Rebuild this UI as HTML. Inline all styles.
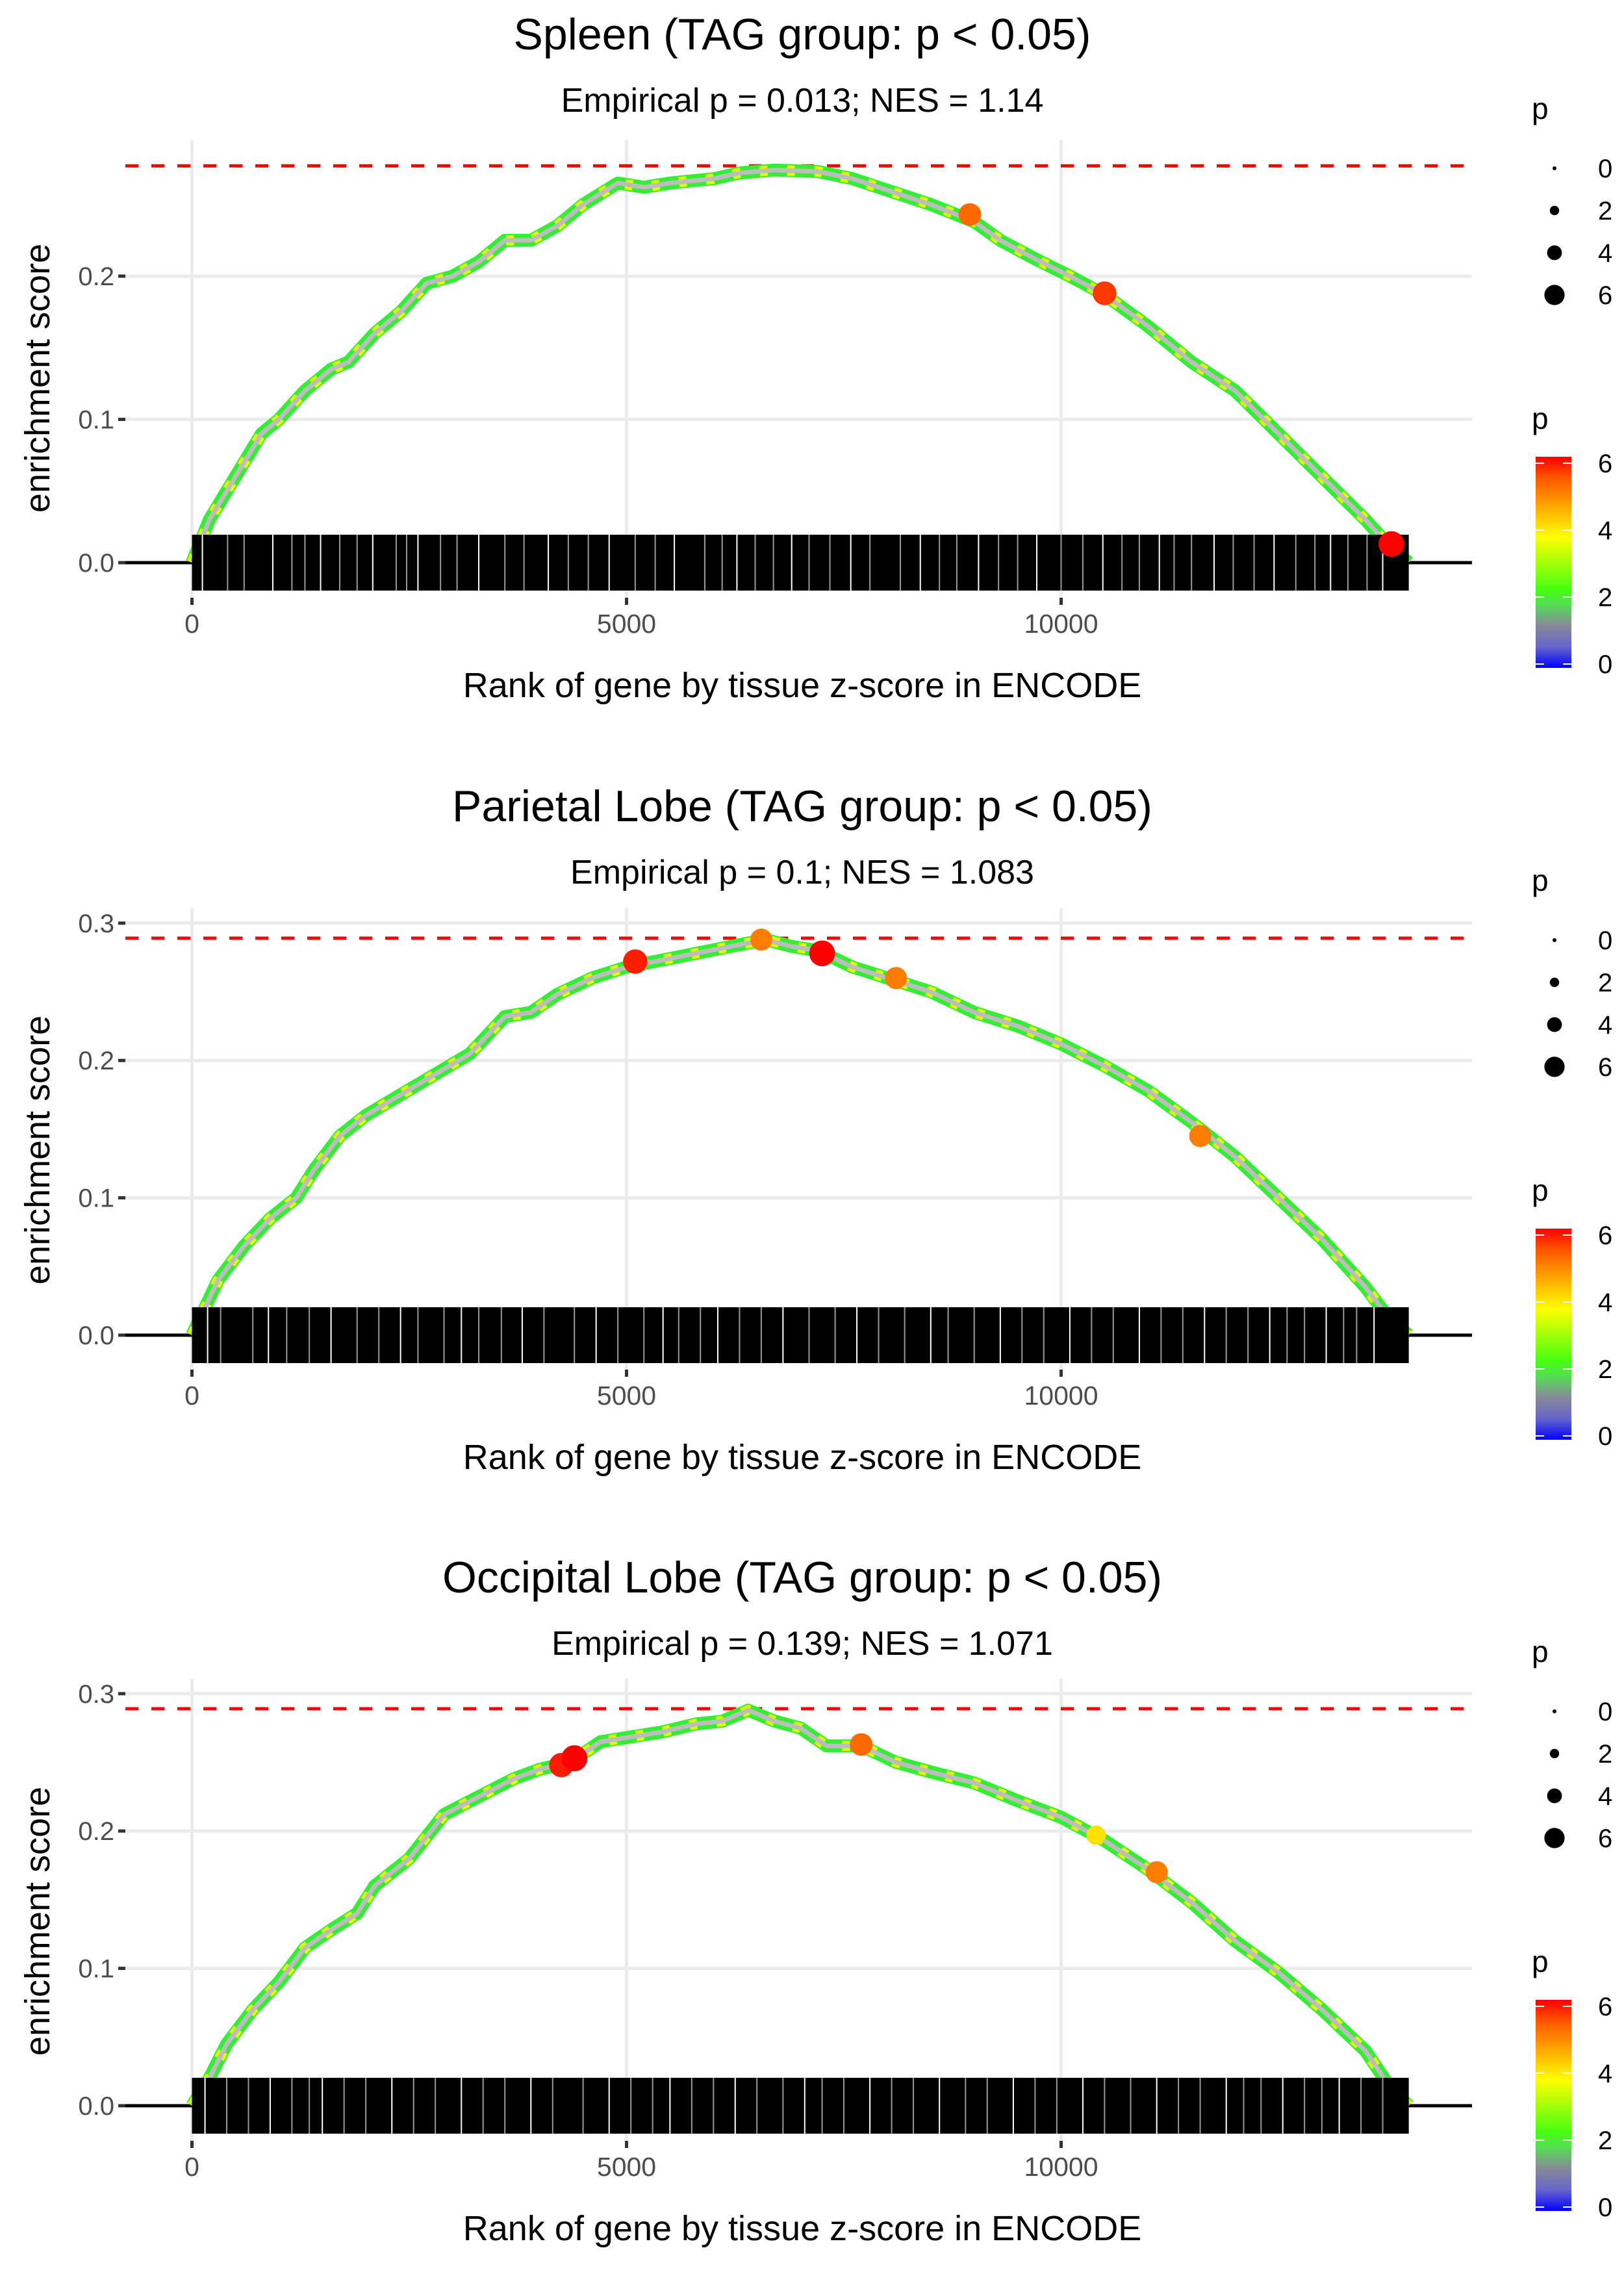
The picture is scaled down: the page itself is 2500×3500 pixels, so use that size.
<!DOCTYPE html>
<html><head><meta charset="utf-8">
<style>
html,body{margin:0;padding:0;background:#fff;}
svg{display:block;font-family:"Liberation Sans",sans-serif;}
</style></head>
<body>
<svg id="chart" width="2500" height="3500" viewBox="0 0 2500 3500" xmlns="http://www.w3.org/2000/svg">
<defs>
<linearGradient id="cbar" x1="0" y1="1" x2="0" y2="0">
<stop offset="0" stop-color="#0000ff"/>
<stop offset="0.1" stop-color="#6666cc"/>
<stop offset="0.2" stop-color="#888899"/>
<stop offset="0.3" stop-color="#55dd55"/>
<stop offset="0.37" stop-color="#44ff11"/>
<stop offset="0.62" stop-color="#ffff00"/>
<stop offset="0.9" stop-color="#ff5500"/>
<stop offset="1" stop-color="#ff0000"/>
</linearGradient>
</defs>
</svg>
<script>
// ---- data ----
const titles = ["Spleen (TAG group: p < 0.05)","Parietal Lobe (TAG group: p < 0.05)","Occipital Lobe (TAG group: p < 0.05)"];
const subtitles = ["Empirical p = 0.013; NES = 1.14","Empirical p = 0.1; NES = 1.083","Empirical p = 0.139; NES = 1.071"];
const maxES = [0.277, 0.289, 0.289];
const xTicks = [0, 5000, 10000];
const yTicks1 = [0.0, 0.1, 0.2];
const yTicks23 = [0.0, 0.1, 0.2, 0.3];
const ranks1 = [0,200,500,800,1000,1300,1600,1800,2100,2400,2700,3000,3300,3600,3900,4200,4500,4900,5200,5500,6000,6300,6700,7200,7600,8000,8500,9000,9300,9700,10100,10500,11000,11500,12000,12500,13000,13500,13800,14000];
const es1 = [0,0.03,0.06,0.09,0.1,0.12,0.135,0.14,0.16,0.175,0.195,0.2,0.21,0.225,0.225,0.235,0.25,0.265,0.262,0.265,0.268,0.272,0.274,0.273,0.268,0.26,0.25,0.238,0.225,0.212,0.2,0.187,0.165,0.14,0.12,0.09,0.06,0.03,0.01,0];
const ranks2 = [0,300,600,900,1200,1400,1700,2000,2400,2800,3200,3600,3900,4200,4600,5000,5400,5800,6200,6600,6900,7200,7600,8000,8500,9000,9500,10000,10500,11000,11500,12000,12500,13000,13500,13800,14000];
const es2 = [0,0.04,0.065,0.085,0.1,0.12,0.145,0.16,0.175,0.19,0.205,0.232,0.235,0.248,0.26,0.268,0.273,0.278,0.283,0.288,0.283,0.28,0.268,0.26,0.25,0.235,0.225,0.212,0.196,0.178,0.155,0.13,0.1,0.07,0.035,0.01,0];
const ranks3 = [0,200,400,700,1000,1300,1600,1900,2100,2500,2900,3300,3700,4000,4350,4700,5000,5400,5800,6100,6400,6700,7000,7300,7700,8100,8500,9000,9500,10000,10500,11000,11500,12000,12500,13000,13500,13800,14000];
const es3 = [0,0.02,0.045,0.07,0.09,0.115,0.128,0.14,0.16,0.18,0.212,0.225,0.238,0.245,0.25,0.265,0.268,0.272,0.278,0.28,0.288,0.28,0.275,0.262,0.262,0.25,0.243,0.235,0.222,0.21,0.193,0.172,0.148,0.12,0.097,0.07,0.04,0.012,0];
const hiRanks1 = [8950,10500,13800];
const hiES1 = [0.243,0.188,0.013];
const hiP1 = [5.2,5.6,6.3];
const hiRanks2 = [5100,7250,8100,11600,6550];
const hiES2 = [0.272,0.278,0.26,0.145,0.288];
const hiP2 = [5.8,6.3,5.0,5.0,5.0];
const hiRanks3 = [4250,4400,7700,10400,11100];
const hiES3 = [0.248,0.253,0.263,0.197,0.17];
const hiP3 = [5.8,6.4,5.2,4.0,5.0];
const gaps1 = [120,410,600,930,1150,1300,1480,1700,1900,2080,2350,2470,2600,2860,3050,3300,3600,3820,4100,4330,4560,4800,5100,5330,5550,5900,6100,6270,6480,6690,6900,7100,7340,7580,7800,8150,8380,8600,8800,9050,9280,9500,9720,10000,10250,10480,10700,10900,11130,11300,11500,11760,11980,12220,12450,12700,12920,13100,13300,13520,13700];
const gaps2 = [180,330,700,880,1090,1350,1600,1900,2150,2400,2600,2900,3100,3300,3560,3800,4050,4400,4650,4900,5200,5420,5600,5850,6050,6300,6550,6800,7100,7400,7650,7900,8200,8500,8700,9000,9300,9550,9800,10100,10350,10600,10900,11150,11400,11650,11900,12150,12400,12600,12800,13050,13250,13400,13600];
const gaps3 = [150,400,650,900,1150,1350,1500,1750,2000,2300,2550,2800,3100,3350,3600,3900,4150,4500,4800,5050,5300,5500,5750,6000,6250,6500,6800,7050,7250,7500,7800,8050,8300,8600,8900,9150,9450,9700,9950,10250,10500,10800,11100,11350,11600,11900,12100,12300,12550,12800,13000,13200,13450,13700];
const legendSizes = [0,2,4,6];
const colorTicks = [0,2,4,6];

// ---- layout ----
const NS="http://www.w3.org/2000/svg";
const svg=document.getElementById('chart');
const panels=[
 {off:0, y0:866, unit:2205, top:216, bottom:920, yt:yTicks1, r:ranks1, e:es1, hr:hiRanks1, he:hiES1, hp:hiP1, g:gaps1},
 {off:1188, y0:2055, unit:2114, top:1398, bottom:2108, yt:yTicks23, r:ranks2, e:es2, hr:hiRanks2, he:hiES2, hp:hiP2, g:gaps2},
 {off:2375, y0:3241, unit:2114, top:2584, bottom:3295, yt:yTicks23, r:ranks3, e:es3, hr:hiRanks3, he:hiES3, hp:hiP3, g:gaps3}
];
const L=193,R=2266;
function xs(v){return 295.5+v*(669/5000);}
function mk(tag,attrs,parent){const el=document.createElementNS(NS,tag);for(const k in attrs)el.setAttribute(k,attrs[k]);(parent||svg).appendChild(el);return el;}
function pcol(p){
 const stops=[[0,[0,0,255]],[1.2,[136,136,153]],[1.8,[85,221,85]],[2.2,[68,255,17]],[3.7,[255,255,0]],[5.4,[255,85,0]],[6,[255,0,0]]];
 for(let i=1;i<stops.length;i++){if(p<=stops[i][0]||i==stops.length-1){const a=stops[i-1],b=stops[i];let t=Math.min(1,Math.max(0,(p-a[0])/(b[0]-a[0])));return 'rgb('+a[1].map((c,j)=>Math.round(c+(b[1][j]-c)*t)).join(',')+')';}}
}

panels.forEach((P,i)=>{
 const g=mk('g',{});
 
 
 const ys=v=>P.y0-v*P.unit;
 xTicks.forEach(t=>{const l=mk('line',{x1:xs(t),x2:xs(t),y1:P.top,y2:P.bottom,stroke:'#ebebeb','stroke-width':5},g);
  });
 P.yt.forEach(t=>{const l=mk('line',{x1:L,x2:R,y1:ys(t),y2:ys(t),stroke:'#ebebeb','stroke-width':5},g);
  });
 P.yt.forEach(t=>{
  mk('line',{x1:182,x2:193,y1:ys(t),y2:ys(t),stroke:'#333','stroke-width':5},g);
  const tx=mk('text',{x:176,y:ys(t)+14,'text-anchor':'end','font-size':40,fill:'#4d4d4d'},g);tx.textContent=t.toFixed(1);
  
 });
 xTicks.forEach(t=>{
  mk('line',{x1:xs(t),x2:xs(t),y1:P.bottom,y2:P.bottom+11,stroke:'#333','stroke-width':5},g);
  const tx=mk('text',{x:xs(t),y:P.bottom+54,'text-anchor':'middle','font-size':41,fill:'#4d4d4d'},g);tx.textContent=t;
  
 });
 const bl=mk('line',{x1:L,x2:R,y1:P.y0,y2:P.y0,stroke:'#000','stroke-width':5},g);
 
 const dl=mk('line',{x1:L,x2:R,y1:ys(maxES[i]),y2:ys(maxES[i]),stroke:'#ff0000','stroke-width':5,'stroke-dasharray':'20 20'},g);
 
 const pts=P.r.map((r,k)=>xs(r).toFixed(1)+','+ys(P.e[k]).toFixed(1)).join(' ');
 const c1=mk('polyline',{points:pts,fill:'none',stroke:'#33ee33','stroke-width':20,'stroke-linejoin':'round'},g);
 
 const c2=mk('polyline',{points:pts,fill:'none',stroke:'#ddff00','stroke-width':16,'stroke-dasharray':'12 30','stroke-linejoin':'round'},g);
 
 const c3=mk('polyline',{points:pts,fill:'none',stroke:'#bdbdbd','stroke-width':7,'stroke-linejoin':'round'},g);
 
 const rl=mk('rect',{x:xs(0),y:P.y0-43,width:xs(14000)-xs(0),height:86,fill:'#000'},g);
 
 P.g.forEach((r,k)=>{const w=mk('line',{x1:xs(r),x2:xs(r),y1:P.y0-43,y2:P.y0+43,stroke:k%3==0?'#fff':'#999','stroke-width':2},g);
  });
 P.hr.forEach((r,k)=>{const p=P.hp[k];const c=mk('circle',{cx:xs(r),cy:ys(P.he[k]),r:6+p*2.2,fill:pcol(p)},g);
  });
 const t1=mk('text',{x:1235,y:P.off+76,'text-anchor':'middle','font-size':68,fill:'#000'},g);t1.textContent=titles[i];
 
 const t2=mk('text',{x:1235,y:P.off+172,'text-anchor':'middle','font-size':52,fill:'#000'},g);t2.textContent=subtitles[i];
 
 const xt=mk('text',{x:1235,y:P.off+1073,'text-anchor':'middle','font-size':54,fill:'#000'},g);xt.textContent='Rank of gene by tissue z-score in ENCODE';
 
 const yt=mk('text',{x:0,y:0,'text-anchor':'middle','font-size':54,fill:'#000',transform:'translate(76,'+(P.off+582)+') rotate(-90)'},g);yt.textContent='enrichment score';
 
 const lp=mk('text',{x:2358,y:P.off+183,'font-size':46,fill:'#000'},g);lp.textContent='p';
 
 legendSizes.forEach((s,k)=>{const cy=P.off+259+k*65;
  const d=mk('circle',{cx:2393,cy:cy,r:3+s*2.1,fill:'#000'},g);
  const tx=mk('text',{x:2460,y:cy+14,'font-size':40,fill:'#000'},g);tx.textContent=s;});
 const cp=mk('text',{x:2358,y:P.off+660,'font-size':46,fill:'#000'},g);cp.textContent='p';
 
 const cb=mk('rect',{x:2364,y:P.off+703,width:55,height:325,fill:'url(#cbar)'},g);
 
 colorTicks.forEach(v=>{const cy=P.off+1022-v*(1022-713)/6;
  mk('line',{x1:2364,x2:2377,y1:cy,y2:cy,stroke:'#fff','stroke-width':2},g);
  mk('line',{x1:2406,x2:2419,y1:cy,y2:cy,stroke:'#fff','stroke-width':2},g);
  const tx=mk('text',{x:2460,y:cy+14,'font-size':40,fill:'#000'},g);tx.textContent=v;});
});
</script>
</body></html>
